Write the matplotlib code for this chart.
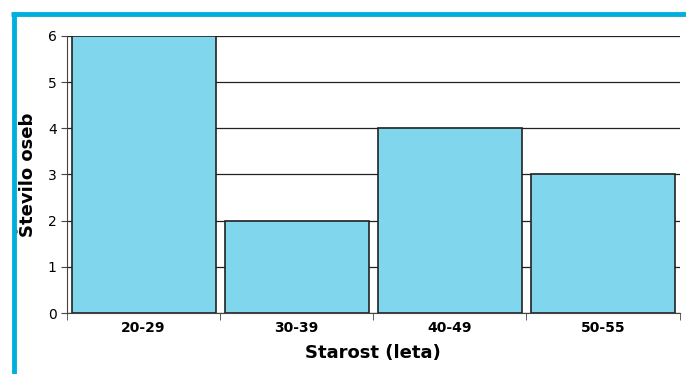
import matplotlib.pyplot as plt
from matplotlib.lines import Line2D

categories = ['20-29', '30-39', '40-49', '50-55']
counts = [6, 2, 4, 3]
yticks = [0, 1, 2, 3, 4, 5, 6]

fig = plt.figure(figsize=(6.86, 3.74), dpi=100)
ax = fig.add_axes([0.0977, 0.163, 0.893, 0.741])

x = range(len(categories))
ax.bar(x, counts, width=0.94, color='#80D6EC', edgecolor='#222222', linewidth=1.2, zorder=3)

ax.set_xlim(-0.5, 3.5)
ax.set_ylim(0, 6)
ax.set_yticks(yticks)
ax.yaxis.grid(True, color='#222222', linewidth=0.9, zorder=0)

ax.set_xticks(list(x))
ax.set_xticklabels(categories, fontsize=10, fontweight='bold')
ax.tick_params(axis='x', length=0, pad=6)
ax.set_xticks([-0.5, 0.5, 1.5, 2.5, 3.5], minor=True)
ax.tick_params(axis='x', which='minor', length=5, color='#444444')
ax.tick_params(axis='y', length=4, labelsize=10, color='#444444')

for s in ['top', 'right']:
    ax.spines[s].set_visible(False)
ax.spines['left'].set_color('#444444')
ax.spines['bottom'].set_color('#444444')

ax.set_xlabel('Starost (leta)', fontsize=13, fontweight='bold', labelpad=6)
ax.set_ylabel('Število oseb', fontsize=13, fontweight='bold', labelpad=8)

# blue frame at top and left
fig.add_artist(Line2D([11 / 686, 1], [1 - 14 / 374, 1 - 14 / 374], color='#00B0DC',
                      linewidth=3.5, solid_capstyle='butt'))
fig.add_artist(Line2D([13.5 / 686, 13.5 / 686], [0, 1 - 12 / 374], color='#00B0DC',
                      linewidth=3.5, solid_capstyle='butt'))

fig.savefig('out.png', dpi=100)
